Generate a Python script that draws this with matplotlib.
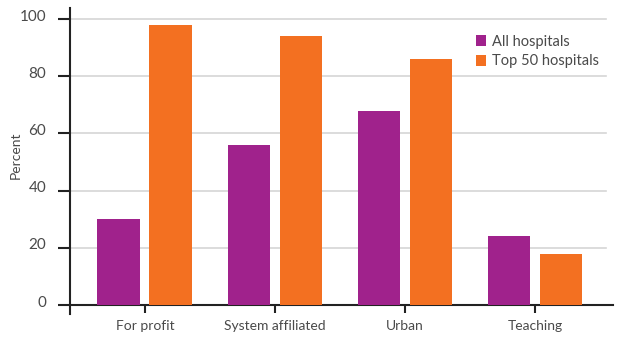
import matplotlib.pyplot as plt
import matplotlib.transforms as mtransforms
import numpy as np

# data
categories = ["For profit", "System affiliated", "Urban", "Teaching"]
all_hospitals = [30, 56, 68, 24]
top50_hospitals = [98, 94, 86, 18]
series_names = ["All hospitals", "Top 50 hospitals"]
yticks = [0, 20, 40, 60, 80, 100]

purple = "#A0228C"
orange = "#F37021"
text_col = "#4a4a4a"

plt.rcParams["font.family"] = ["Lato", "DejaVu Sans"]

fig = plt.figure(figsize=(6.3, 3.45), dpi=100)
ax = fig.add_axes([0.111, 0.091, 0.862, 0.887])

x = np.arange(len(categories))
w = 0.33
ax.bar(x - 0.2, all_hospitals, w, color=purple, label=series_names[0], zorder=3)
ax.bar(x + 0.2, top50_hospitals, w, color=orange, label=series_names[1], zorder=3)

ax.set_xlim(-0.577, 3.6)
ax.set_ylim(-3, 104)

# gridlines
for t in yticks[1:]:
    ax.axhline(t, xmin=0, xmax=0.988, color="#d6d6d6", lw=1.2, zorder=1)

for s in ["top", "right"]:
    ax.spines[s].set_visible(False)
ax.spines["bottom"].set_position(("data", 0))
ax.spines["left"].set_color("#222222")
ax.spines["bottom"].set_color("#222222")
ax.spines["left"].set_linewidth(1.5)
ax.spines["bottom"].set_linewidth(1.5)

ax.set_yticks(yticks)
ax.set_xticks(x)
ax.set_xticklabels(categories)
ax.tick_params(axis="y", length=9, width=1.5, color="#222222", labelsize=11,
               labelcolor=text_col, pad=8)
ax.tick_params(axis="x", length=6, width=1.5, color="#222222", labelsize=10,
               labelcolor=text_col, pad=5)

# y labels sit a little above their tick
offset = mtransforms.ScaledTranslation(0, 4 / 100, fig.dpi_scale_trans)
for lab in ax.get_yticklabels():
    lab.set_transform(lab.get_transform() + offset)

fig.text(16 / 630, 1 - 155 / 345, "Percent", rotation=90, fontsize=10,
         color=text_col, ha="center", va="center")

leg = ax.legend(loc="upper left", frameon=False, fontsize=10.5, handlelength=0.75,
                handleheight=0.75, handletextpad=0.4, labelspacing=0.4,
                labelcolor=text_col)
leg.set_bbox_to_anchor((0.734, 0.938), transform=fig.transFigure)

fig.savefig("out.png", dpi=100)
